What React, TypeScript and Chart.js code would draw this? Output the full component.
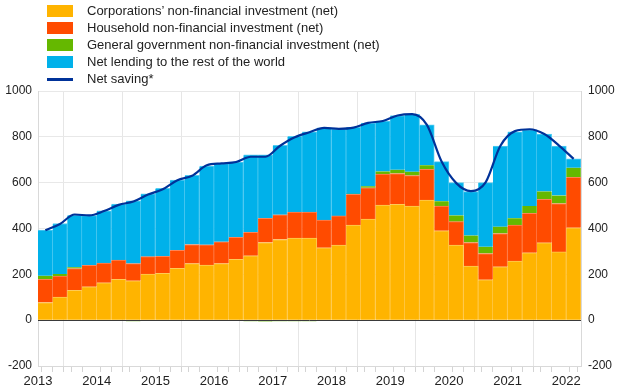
import React, { useEffect, useRef } from 'react';
import { Chart, registerables } from 'chart.js';

Chart.register(...registerables);

const FONT = '"Liberation Sans", Arial, Helvetica, sans-serif';

const quarters = [
  '2013Q1', '2013Q2', '2013Q3', '2013Q4',
  '2014Q1', '2014Q2', '2014Q3', '2014Q4',
  '2015Q1', '2015Q2', '2015Q3', '2015Q4',
  '2016Q1', '2016Q2', '2016Q3', '2016Q4',
  '2017Q1', '2017Q2', '2017Q3', '2017Q4',
  '2018Q1', '2018Q2', '2018Q3', '2018Q4',
  '2019Q1', '2019Q2', '2019Q3', '2019Q4',
  '2020Q1', '2020Q2', '2020Q3', '2020Q4',
  '2021Q1', '2021Q2', '2021Q3', '2021Q4',
  '2022Q1',
];

const corporations = [
  77, 101, 130, 146, 163, 178, 172, 201, 204, 226, 247, 240, 247, 265, 281, 339, 352, 358, 358, 316,
  328, 415, 441, 502, 506, 498, 524, 390, 328, 236, 176, 233, 258, 294, 338, 298, 403,
];
const households = [
  101, 91, 95, 93, 86, 84, 75, 76, 75, 79, 83, 89, 95, 96, 102, 105, 108, 114, 114, 121,
  127, 134, 137, 135, 134, 133, 134, 108, 102, 103, 115, 145, 157, 172, 189, 211, 220,
];
const government = [
  16, 9, 6, 2, -3, -4, -5, -4, -3, 0, 0, 0, 0, -4, -5, -6, -5, -5, -5, -3,
  0, 3, 6, 12, 16, 17, 18, 21, 27, 30, 29, 30, 30, 32, 35, 35, 42,
];
const netLending = [
  199, 221, 226, 215, 228, 245, 274, 274, 296, 306, 302, 343, 341, 329, 339, 278, 303, 330, 350, 402,
  379, 289, 276, 220, 237, 250, 176, 173, 143, 192, 280, 352, 377, 333, 250, 216, 39,
];
const netSaving = [
  392, 420, 461, 457, 476, 503, 518, 548, 571, 611, 630, 676, 684, 690, 713, 713, 761, 798, 820, 839,
  835, 840, 861, 869, 893, 899, 852, 692, 598, 563, 601, 760, 825, 833, 812, 762, 704,
];

const yTicks = { min: -200, max: 1000, step: 200 };

const seriesNames = [
  'Corporations\u2019 non-financial investment (net)',
  'Household non-financial investment (net)',
  'General government non-financial investment (net)',
  'Net lending to the rest of the world',
  'Net saving*',
];
const colors = ['#FFB400', '#FF4B00', '#65B800', '#00B1EA', '#003299'];
const edgeColors = ['#FFCB55', '#FF8355', '#93CF55', '#55CCF1'];

const toPoints = (vals: number[]) => vals.map((v, i) => ({ x: i + 0.5, y: v }));

const isQ = (v: number, q: string) => Number.isInteger(v) && !!quarters[v] && quarters[v].endsWith(q);

export default function App() {
  const canvasRef = useRef<HTMLCanvasElement | null>(null);

  useEffect(() => {
    document.body.style.margin = '0';
    const canvas = canvasRef.current;
    if (!canvas) return;

    const zeroLine = {
      id: 'zeroLine',
      afterDatasetsDraw(chart: any) {
        const y = chart.scales.y;
        const area = chart.chartArea;
        const py = Math.round(y.getPixelForValue(0)) + 0.5;
        const ctx = chart.ctx;
        ctx.save();
        ctx.strokeStyle = '#3a3a3a';
        ctx.lineWidth = 1;
        ctx.beginPath();
        ctx.moveTo(area.left, py);
        ctx.lineTo(area.right, py);
        ctx.stroke();
        ctx.restore();
      },
    };

    const barSeries = [corporations, households, government, netLending];

    const chart = new Chart(canvas, {
      type: 'bar',
      data: {
        datasets: [
          ...barSeries.map((vals, k) => ({
            type: 'bar' as const,
            label: seriesNames[k],
            data: toPoints(vals),
            backgroundColor: colors[k],
            borderColor: edgeColors[k],
            borderWidth: k === 2 ? { right: 1 } : { right: 1, top: 1 },
            borderSkipped: false as any,
            barThickness: 'flex' as const,
            barPercentage: 1,
            categoryPercentage: 1,
            stack: 'bars',
            order: 1,
          })),
          {
            type: 'line' as const,
            label: seriesNames[4],
            data: toPoints(netSaving),
            borderColor: colors[4],
            backgroundColor: colors[4],
            borderWidth: 2.2,
            pointRadius: 0,
            cubicInterpolationMode: 'monotone' as const,
            stack: 'saving',
            order: 0,
          },
        ],
      },
      options: {
        responsive: false,
        animation: false,
        devicePixelRatio: 1,
        layout: { padding: { top: 91, left: 0, right: 0, bottom: 0 } },
        plugins: { legend: { display: false }, tooltip: { enabled: false } },
        font: { family: FONT },
        scales: {
          x: {
            type: 'linear',
            min: 0,
            max: quarters.length,
            offset: false,
            stacked: true,
            afterBuildTicks: (scale: any) => {
              const vals = new Set<number>();
              quarters.forEach((q, i) => {
                vals.add(i + 0.5);
                if (q.endsWith('Q1') || q.endsWith('Q3')) vals.add(i);
              });
              scale.ticks = Array.from(vals).sort((a, b) => a - b).map((v) => ({ value: v }));
            },
            afterFit: (scale: any) => {
              scale.height = 22;
            },
            ticks: {
              autoSkip: false,
              maxRotation: 0,
              minRotation: 0,
              padding: 2,
              color: '#222',
              font: { family: FONT, size: 13 },
              callback: (value: any) => (isQ(value, 'Q1') ? quarters[value].slice(0, 4) : ''),
            },
            grid: {
              color: (ctx: any) => (ctx.tick && isQ(ctx.tick.value, 'Q3') ? '#e6e6e6' : 'rgba(0,0,0,0)'),
              tickColor: (ctx: any) => (ctx.tick && isQ(ctx.tick.value, 'Q1') ? 'rgba(0,0,0,0)' : '#d4d4d4'),
              tickLength: 6,
              lineWidth: 1,
            },
            border: { display: true, color: '#d9d9d9' },
          },
          y: {
            type: 'linear',
            position: 'left',
            stacked: true,
            min: yTicks.min,
            max: yTicks.max,
            afterFit: (scale: any) => {
              scale.width = 38;
            },
            ticks: {
              stepSize: yTicks.step,
              padding: 6,
              color: '#222',
              font: { family: FONT, size: 12 },
              callback: (v: any) => String(v),
            },
            grid: {
              color: (ctx: any) => (ctx.tick && ctx.tick.value === 0 ? 'rgba(0,0,0,0)' : '#e8e8e8'),
              drawTicks: false,
            },
            border: { display: true, color: '#d9d9d9' },
          },
          y2: {
            type: 'linear',
            position: 'right',
            min: yTicks.min,
            max: yTicks.max,
            afterFit: (scale: any) => {
              scale.width = 39;
            },
            ticks: {
              stepSize: yTicks.step,
              padding: 7,
              color: '#222',
              font: { family: FONT, size: 12 },
              callback: (v: any) => String(v),
            },
            grid: { drawOnChartArea: false, drawTicks: false },
            border: { display: true, color: '#d9d9d9' },
          },
        },
      } as any,
      plugins: [zeroLine],
    });

    return () => {
      chart.destroy();
    };
  }, []);

  const rowTop = (k: number) => 5 + k * 17.1;

  return (
    <div
      style={{
        position: 'fixed',
        left: 0,
        top: 0,
        width: 620,
        height: 388,
        background: '#fff',
        fontFamily: FONT,
      }}
    >
      <canvas ref={canvasRef} width={620} height={388} style={{ position: 'absolute', left: 0, top: 0 }} />
      {seriesNames.map((name, k) => (
        <div key={name}>
          {k < 4 ? (
            <div
              style={{
                position: 'absolute',
                left: 47,
                top: rowTop(k),
                width: 26,
                height: 12,
                background: colors[k],
              }}
            />
          ) : (
            <div
              style={{
                position: 'absolute',
                left: 47,
                top: rowTop(k) + 5,
                width: 26,
                height: 2.2,
                background: colors[k],
              }}
            />
          )}
          <div
            style={{
              position: 'absolute',
              left: 87,
              top: rowTop(k) - 2,
              height: 16,
              lineHeight: '16px',
              fontSize: 13,
              color: '#222',
              whiteSpace: 'nowrap',
            }}
          >
            {name}
          </div>
        </div>
      ))}
    </div>
  );
}
